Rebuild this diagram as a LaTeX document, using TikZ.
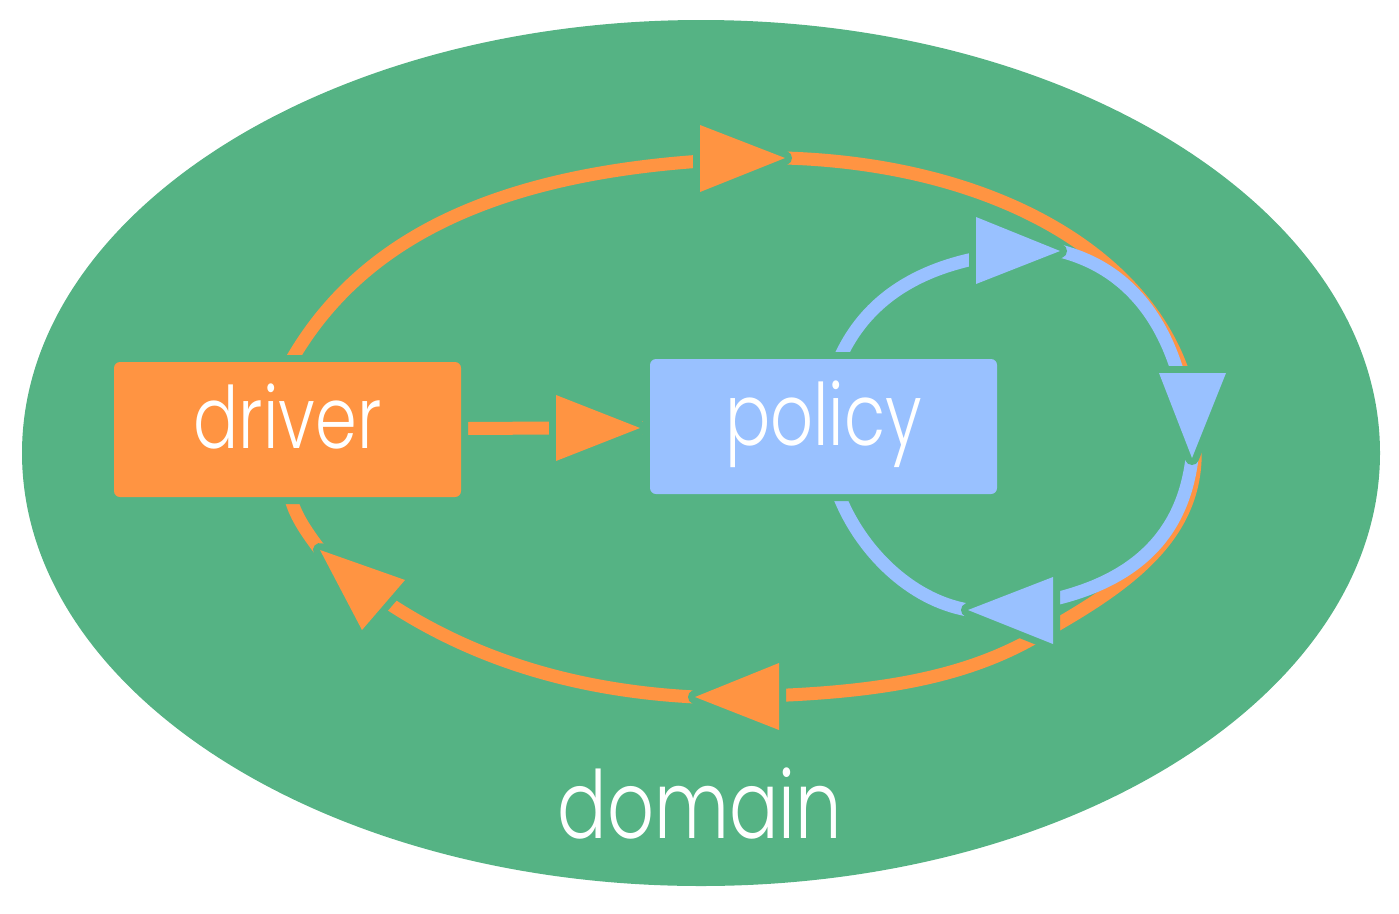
\documentclass[tikz,border=0pt]{standalone}
\usepackage{fontspec}
\setmainfont{Poppins}[UprightFont={* Light}, FakeStretch=0.78]
\definecolor{dgreen}{HTML}{55B384}
\definecolor{dorange}{HTML}{FF9442}
\definecolor{dblue}{HTML}{99C1FF}
\pgfdeclarelayer{ell}
\pgfdeclarelayer{olines}
\pgfdeclarelayer{otris}
\pgfdeclarelayer{blines}
\pgfdeclarelayer{btris}
\pgfsetlayers{ell,olines,otris,blines,btris,main}
\tikzset{
  oline/.style={draw=dorange, line width=13pt, line join=round},
  bline/.style={draw=dblue, line width=13pt, line join=round},
  tri/.style={fill=#1, preaction={draw=dgreen, line width=14pt, line join=round}},
  box/.style={fill=#1, rounded corners=6pt, preaction={draw=dgreen, line width=14pt},
    minimum width=347pt, minimum height=135pt, inner sep=0pt, text=white,
    font=\fontsize{86}{90}\selectfont, text height=60pt, text depth=22pt},
  lbl/.style={text=white, font=\fontsize{94}{98}\selectfont, inner sep=0pt, anchor=base},
}
\begin{document}
\begin{tikzpicture}[x=1pt,y=-1pt]
\useasboundingbox (0,0) rectangle (1399,913);
\begin{pgfonlayer}{ell}
  \fill[dgreen] (701,453) ellipse [x radius=679, y radius=433];
\end{pgfonlayer}
\node[box=dorange] (driver) at (287.5,429.5) {driver};
\node[box=dblue] (policy) at (823.5,426.5) {policy};
\node[lbl] (domain) at (700,838) {domain};
% arrow tips
\coordinate (ot1) at (785,158);
\coordinate (ot2) at (1195,445);
\coordinate (ot3) at (695,697);
\coordinate (ot4) at (320,550);
\coordinate (bt1) at (1060,251);
\coordinate (bt2) at (1192,458);
\coordinate (bt3) at (968,610);
\begin{pgfonlayer}{olines}
  \draw[oline] ([xshift=3pt,yshift=-10pt]driver.north) -- ([xshift=3pt]driver.north)
     .. controls (360,240) and (500,160) .. (ot1);
  \draw[oline] (ot1) .. controls (1020,165) and (1195,280) .. (ot2);
  \draw[oline] (ot2) .. controls (1200,540) and (1120,590) .. (1030,640)
     .. controls (950,684) and (850,697) .. (ot3);
  \draw[oline] (ot3) .. controls (560,690) and (430,650) .. (ot4);
  \draw[oline] (ot4) .. controls (305,530) and (295,515) .. ([xshift=3pt]driver.south)
     -- ([xshift=3pt,yshift=10pt]driver.south);
  \draw[oline] (driver) -- (policy);
\end{pgfonlayer}
\begin{pgfonlayer}{otris}
  \path[tri=dorange] (700,125) -- (ot1) -- (700,192) -- cycle;
  \path[tri=dorange] (779,663) -- (ot3) -- (779,730) -- cycle;
  \path[tri=dorange] (405,580) -- (ot4) -- (362,630) -- cycle;
  \path[tri=dorange] (556,395) -- (640,428) -- (556,461) -- cycle;
\end{pgfonlayer}
\begin{pgfonlayer}{blines}
  \draw[bline] ([xshift=16pt,yshift=-10pt]policy.north) -- ([xshift=16pt]policy.north)
     .. controls (870,290) and (940,250) .. (bt1);
  \draw[bline] (bt1) .. controls (1135,270) and (1185,335) .. (bt2);
  \draw[bline] (bt2) .. controls (1180,560) and (1100,605) .. (bt3);
  \draw[bline] (bt3) .. controls (910,600) and (860,550) .. ([xshift=15pt]policy.south)
     -- ([xshift=15pt,yshift=10pt]policy.south);
\end{pgfonlayer}
\begin{pgfonlayer}{btris}
  \path[tri=dblue] (976,217) -- (bt1) -- (976,284) -- cycle;
  \path[tri=dblue] (1159,373) -- (bt2) -- (1226,373) -- cycle;
  \path[tri=dblue] (1053,577) -- (bt3) -- (1053,644) -- cycle;
\end{pgfonlayer}
\end{tikzpicture}
\end{document}
